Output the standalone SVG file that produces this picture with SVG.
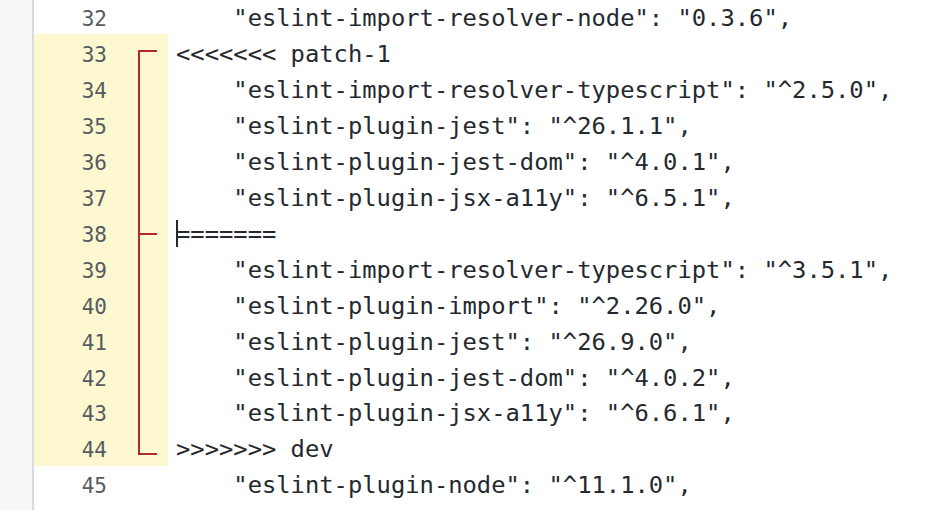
<svg xmlns="http://www.w3.org/2000/svg" width="940" height="510" viewBox="0 0 940 510">
<style>
.n{font-family:"DejaVu Sans Mono",monospace;font-size:21px;fill:#555b63;text-anchor:end}
.c{font-family:"DejaVu Sans Mono",monospace;font-size:23.8px;fill:#24292f;white-space:pre}
.b{stroke:#b3282d;stroke-width:2;fill:none}
</style>
<rect width="940" height="510" fill="#ffffff"/>
<rect x="0" y="0" width="33" height="510" fill="#f6f8fa"/>
<rect x="32" y="0" width="2" height="510" fill="#d8dde3"/>
<rect x="34" y="34" width="134" height="432" fill="#fdf8cf"/>
<g id="gutter">
<text class="n" x="107" y="26">32</text>
<text class="n" x="107" y="62">33</text>
<text class="n" x="107" y="98">34</text>
<text class="n" x="107" y="134">35</text>
<text class="n" x="107" y="170">36</text>
<text class="n" x="107" y="206">37</text>
<text class="n" x="107" y="242">38</text>
<text class="n" x="107" y="278">39</text>
<text class="n" x="107" y="314">40</text>
<text class="n" x="107" y="350">41</text>
<text class="n" x="107" y="386">42</text>
<text class="n" x="107" y="421">43</text>
<text class="n" x="107" y="457">44</text>
<text class="n" x="107" y="493">45</text>
</g>
<g id="bracket">
<path class="b" d="M157 51H139V454H157M139 234H157"/>
</g>
<g id="code">
<text class="c" x="176" y="26">    "eslint-import-resolver-node": "0.3.6",</text>
<text class="c" x="176" y="62">&lt;&lt;&lt;&lt;&lt;&lt;&lt; patch-1</text>
<text class="c" x="176" y="98">    "eslint-import-resolver-typescript": "^2.5.0",</text>
<text class="c" x="176" y="134">    "eslint-plugin-jest": "^26.1.1",</text>
<text class="c" x="176" y="170">    "eslint-plugin-jest-dom": "^4.0.1",</text>
<text class="c" x="176" y="206">    "eslint-plugin-jsx-a11y": "^6.5.1",</text>
<text class="c" x="176" y="242">=======</text>
<text class="c" x="176" y="278">    "eslint-import-resolver-typescript": "^3.5.1",</text>
<text class="c" x="176" y="314">    "eslint-plugin-import": "^2.26.0",</text>
<text class="c" x="176" y="350">    "eslint-plugin-jest": "^26.9.0",</text>
<text class="c" x="176" y="386">    "eslint-plugin-jest-dom": "^4.0.2",</text>
<text class="c" x="176" y="421">    "eslint-plugin-jsx-a11y": "^6.6.1",</text>
<text class="c" x="176" y="457">&gt;&gt;&gt;&gt;&gt;&gt;&gt; dev</text>
<text class="c" x="176" y="493">    "eslint-plugin-node": "^11.1.0",</text>
</g>
<rect x="176" y="220" width="2" height="27" fill="#24292f"/>
</svg>
